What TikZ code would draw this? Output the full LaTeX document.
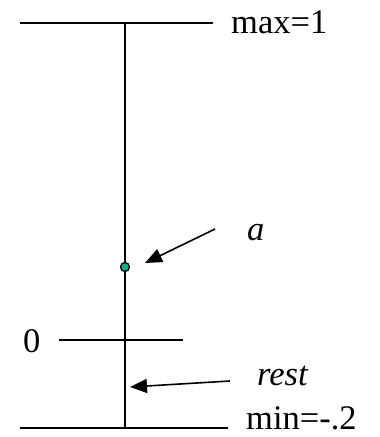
\documentclass[tikz,border=0pt]{standalone}
\usepackage{fontspec}
\setmainfont{Liberation Serif}
\usetikzlibrary{arrows.meta}
\tikzset{
  ln/.style={line width=1.6pt, black},
  arr/.style={line width=1.6pt, -{Triangle[length=17pt,width=14pt]}},
  lbl/.style={font=\fontsize{34.5}{38}\selectfont, inner sep=0pt, anchor=base west},
}
\begin{document}
\begin{tikzpicture}[x=1pt,y=-1pt]
\useasboundingbox (0,0) rectangle (380,437);
\coordinate (tl) at (20,23);
\coordinate (tr) at (213,23);
\coordinate (vt) at (125,23);
\coordinate (vb) at (125,428);
\coordinate (bl) at (20,428);
\coordinate (br) at (228,428);
\coordinate (zl) at (59,340);
\coordinate (zr) at (183,340);
\draw[ln] (tl) -- (tr);
\draw[ln] (bl) -- (br);
\draw[ln] (zl) -- (zr);
\draw[ln] (vt) -- (vb);
\node[circle, draw=black, line width=1.3pt, fill={rgb,255:red,0;green,175;blue,140}, minimum size=9pt, inner sep=0pt] (dot) at (125,267) {};
\node[lbl] (max) at (231,33) {max=1};
\node[lbl] (min) at (246,429) {min=-.2};
\node[lbl] (zero) at (23,352) {0};
\node[lbl] (a) at (247,240) {\itshape a};
\node[lbl] (rest) at (257,385) {\itshape rest};
\coordinate (as) at (215,229);
\coordinate (at) at (145,263);
\coordinate (rs) at (230,381);
\coordinate (rt) at (130,387);
\draw[arr] (as) -- (at);
\draw[arr] (rs) -- (rt);
\end{tikzpicture}
\end{document}
